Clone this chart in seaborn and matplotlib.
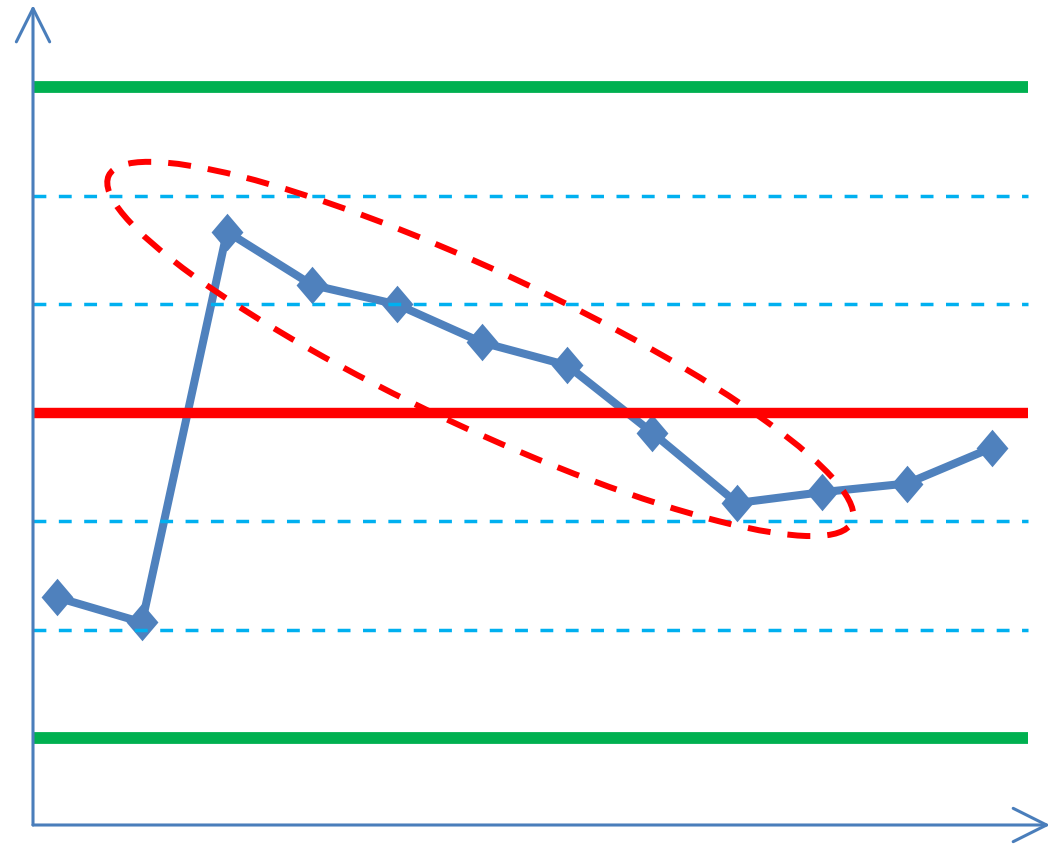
import matplotlib
matplotlib.use("Agg")
import matplotlib.pyplot as plt
import seaborn as sns
from matplotlib.path import Path
from matplotlib.patches import Ellipse
from matplotlib.transforms import IdentityTransform

# control chart data (values in sigma units from the centre line)
samples = list(range(1, 13))
values = [-1.70, -1.93, 1.67, 1.18, 1.00, 0.65, 0.44, -0.18, -0.83, -0.73, -0.65, -0.32]

control_limits = [3, -3]      # UCL / LCL
center_line = [0]
sigma_zones = [2, 1, -1, -2]  # zone boundaries

sns.set_style("white")

fig = plt.figure(figsize=(10.51, 8.47), dpi=100)
ax = fig.add_axes([0, 0, 1, 1])
ax.set_xlim(0.329, 12.694)
ax.set_ylim(-4.0, 3.806)
ax.axis("off")

line_start, line_end = 0.718, 12.42

# data series with diamond markers
diamond = Path([(0, 1), (0.85, 0), (0, -1), (-0.85, 0), (0, 1)])
sns.lineplot(x=samples, y=values, ax=ax, color="#4f81bd", linewidth=5.8,
             marker=diamond, markersize=27, markeredgewidth=0, zorder=3)

# reference lines
ax.hlines(sigma_zones, line_start, line_end, colors="#00b0f0", linewidth=2.5,
          linestyles=[(0, (3.7, 3.6))], zorder=4)
ax.hlines(control_limits, line_start, line_end, colors="#00b050", linewidth=8.5, zorder=4)
ax.hlines(center_line, line_start, line_end, colors="#ff0000", linewidth=7.5, zorder=4)

# highlight of the downward trend
cx, cy = ax.transData.transform((5.98, 0.59))
ax.add_patch(Ellipse((cx, cy), width=820, height=156, angle=-25,
                     transform=IdentityTransform(), fill=False, edgecolor="#ff0000",
                     linewidth=4.3, linestyle=(0, (3.85, 2.85)), zorder=5))

# axes with open arrow heads
axis_color = "#4a7ebb"
origin = (33 / 1051, 1 - 825 / 847)
arrow = dict(arrowstyle="->,head_length=1.2,head_width=0.6", color=axis_color,
             linewidth=2.2, mutation_scale=20, shrinkA=0, shrinkB=0)
ax.annotate("", xy=(origin[0], 0.994), xytext=origin, xycoords="axes fraction",
            arrowprops=arrow, zorder=6)
ax.annotate("", xy=(0.999, origin[1]), xytext=origin, xycoords="axes fraction",
            arrowprops=arrow, zorder=6)

fig.savefig("out.png", dpi=100)
